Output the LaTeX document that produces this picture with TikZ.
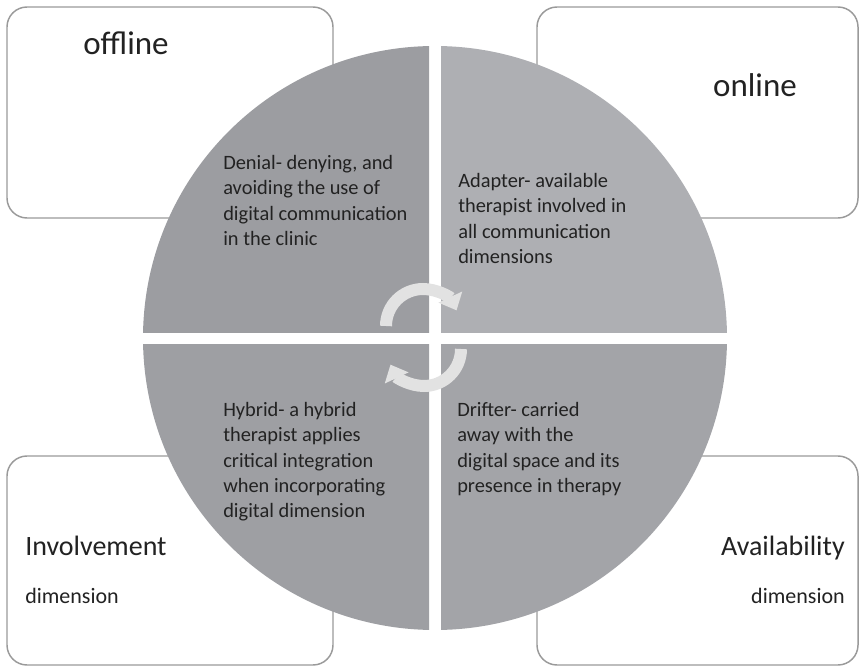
\documentclass[tikz,border=0pt]{standalone}
\usepackage{fontspec}
\setsansfont{Carlito}
\usetikzlibrary{arrows.meta}

\definecolor{qdark}{HTML}{9C9DA1}
\definecolor{qlight}{HTML}{AEAFB3}
\definecolor{qlow}{HTML}{9E9FA3}
\definecolor{qmid}{HTML}{A3A4A8}
\definecolor{frame}{HTML}{9A9A9A}
\definecolor{cyc}{HTML}{E2E2E2}
\definecolor{ink}{HTML}{222222}

\begin{document}
\begin{tikzpicture}[x=0.75pt, y=0.75pt, font=\sffamily, text=ink,
      corner/.style={draw=frame, line width=1.1pt, fill=white, rounded corners=15pt},
      title/.style={inner sep=0pt, font=\sffamily\fontsize{24.75}{30}\selectfont},
      side/.style={inner sep=0pt, font=\sffamily\fontsize{21}{25}\selectfont},
      sub/.style={inner sep=0pt, font=\sffamily\fontsize{16.5}{20}\selectfont},
      quad/.style={inner sep=0pt, anchor=north west, align=left, font=\sffamily\fontsize{15.3}{19}\selectfont},
      turn/.style={draw=cyc, line width=9pt, -{Triangle[width=19pt, length=11pt]}}]
    \useasboundingbox (0,0) rectangle (862,668);

    % four corner boxes behind the circle
    \draw[corner] (7,450) rectangle (333,661);
    \draw[corner] (537,450) rectangle (858,661);
    \draw[corner] (7,3) rectangle (333,212);
    \draw[corner] (537,3) rectangle (858,212);

    \node[title, anchor=base] (off) at (126,613) {offline};
    \node[title, anchor=base] (on) at (755,571) {online};
    \node[side, anchor=base west] (inv) at (25,113) {Involvement};
    \node[sub, anchor=base west] (invdim) at (25,65) {dimension};
    \node[side, anchor=base east] (ava) at (845,113) {Availability};
    \node[sub, anchor=base east] (avadim) at (845,65) {dimension};

    % circle split into quarters
    \begin{scope}
      \clip (0,336) rectangle (429,668);
      \fill[qdark] (435,330) circle (292);
    \end{scope}
    \begin{scope}
      \clip (441,336) rectangle (862,668);
      \fill[qlight] (435,330) circle (292);
    \end{scope}
    \begin{scope}
      \clip (0,0) rectangle (429,324);
      \fill[qlow] (435,330) circle (292);
    \end{scope}
    \begin{scope}
      \clip (441,0) rectangle (862,324);
      \fill[qmid] (435,330) circle (292);
    \end{scope}

    \node[quad] (denial) at (223,513) {Denial- denying, and\\avoiding the use of\\digital communication\\in the clinic};
    \node[quad] (adapter) at (458,495) {Adapter- available\\therapist involved in\\all communication\\dimensions};
    \node[quad] (hybrid) at (223,266) {Hybrid- a hybrid\\therapist applies\\critical integration\\when incorporating\\digital dimension};
    \node[quad] (drifter) at (457,266) {Drifter- carried\\away with the\\digital space and its\\presence in therapy};

    % cycle arrows in the middle
    \coordinate (cyctop) at (386,342);
    \coordinate (cycbot) at (461,319);
    \draw[turn] (cyctop) arc[start angle=180, end angle=25, radius=37];
    \draw[turn] (cycbot) arc[start angle=0, end angle=-155, radius=37];
  \end{tikzpicture}
\end{document}
